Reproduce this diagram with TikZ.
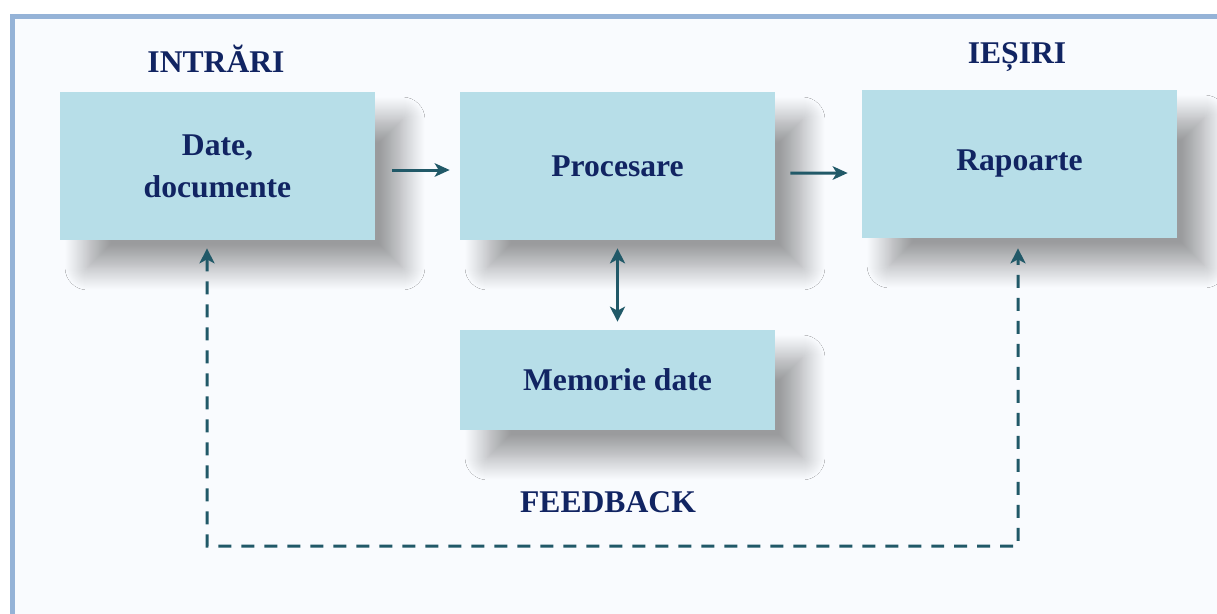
\documentclass[tikz,border=0pt]{standalone}
\usepackage{fontspec}
\setmainfont{Liberation Serif}
\usetikzlibrary{arrows.meta,shadows.blur}
\definecolor{boxfill}{HTML}{B7DEE8}
\definecolor{textblue}{HTML}{112462}
\definecolor{arrowteal}{HTML}{215968}
\definecolor{frameblue}{HTML}{95B3D7}
\definecolor{pagefill}{HTML}{F9FBFE}
\tikzset{
  block/.style={fill=boxfill, text=textblue, font=\fontsize{18}{24}\selectfont\bfseries,
    align=center, minimum width=6.3cm, minimum height=2.96cm, inner sep=0pt,
    blur shadow={shadow xshift=0.55cm, shadow yshift=-0.55cm, shadow blur radius=0.45cm,
      shadow blur steps=24, shadow opacity=38}},
  caption/.style={text=textblue, font=\fontsize{18}{24}\selectfont\bfseries},
  link/.style={draw=arrowteal, line width=0.06cm, -{Stealth[length=0.3cm, width=0.27cm, inset=0.08cm]}},
  twoway/.style={link, {Stealth[length=0.3cm, width=0.3cm, inset=0.08cm]}-{Stealth[length=0.3cm, width=0.3cm, inset=0.08cm]}},
  feedback/.style={twoway, dash pattern=on 0.26cm off 0.2cm}
}
\begin{document}
\begin{tikzpicture}[x=0.02cm, y=-0.02cm]
			\clip (0,0) rectangle (1217,613);
			\fill[white] (0,0) rectangle (1217,613);
			\filldraw[fill=pagefill, draw=frameblue, line width=0.09cm] (12.5,16.5) rectangle (1260,660);
			\node[block] (date) at (217.5,166) {Date,\\documente};
			\node[block] (proc) at (617.5,166) {Procesare};
			\node[block] (rap) at (1019.5,164) {Rapoarte};
			\node[block, minimum height=2cm] (mem) at (617.5,380) {Memorie date};
			\node[caption] (intrari) at (216,59) {INTRĂRI};
			\node[caption] (iesiri) at (1017,57) {IEȘIRI};
			\node[caption] (fb) at (608,502) {FEEDBACK};
			\coordinate (fbleft) at (207,546);
			\coordinate (fbright) at (1018,546);
			\draw[link] ([xshift=0.34cm, yshift=-0.08cm]date.east) -- ([xshift=-0.2cm, yshift=-0.08cm]proc.west);
			\draw[link] ([xshift=0.3cm, yshift=-0.14cm]proc.east) -- ([xshift=-0.28cm, yshift=-0.18cm]rap.west);
			\draw[twoway, shorten <=0.16cm, shorten >=0.16cm] (proc.south) -- (mem.north);
			\draw[feedback] ([xshift=-0.21cm, yshift=-0.16cm]date.south) -- (fbleft) -- (fbright) -- ([xshift=-0.03cm, yshift=-0.2cm]rap.south);
		\end{tikzpicture}
\end{document}
